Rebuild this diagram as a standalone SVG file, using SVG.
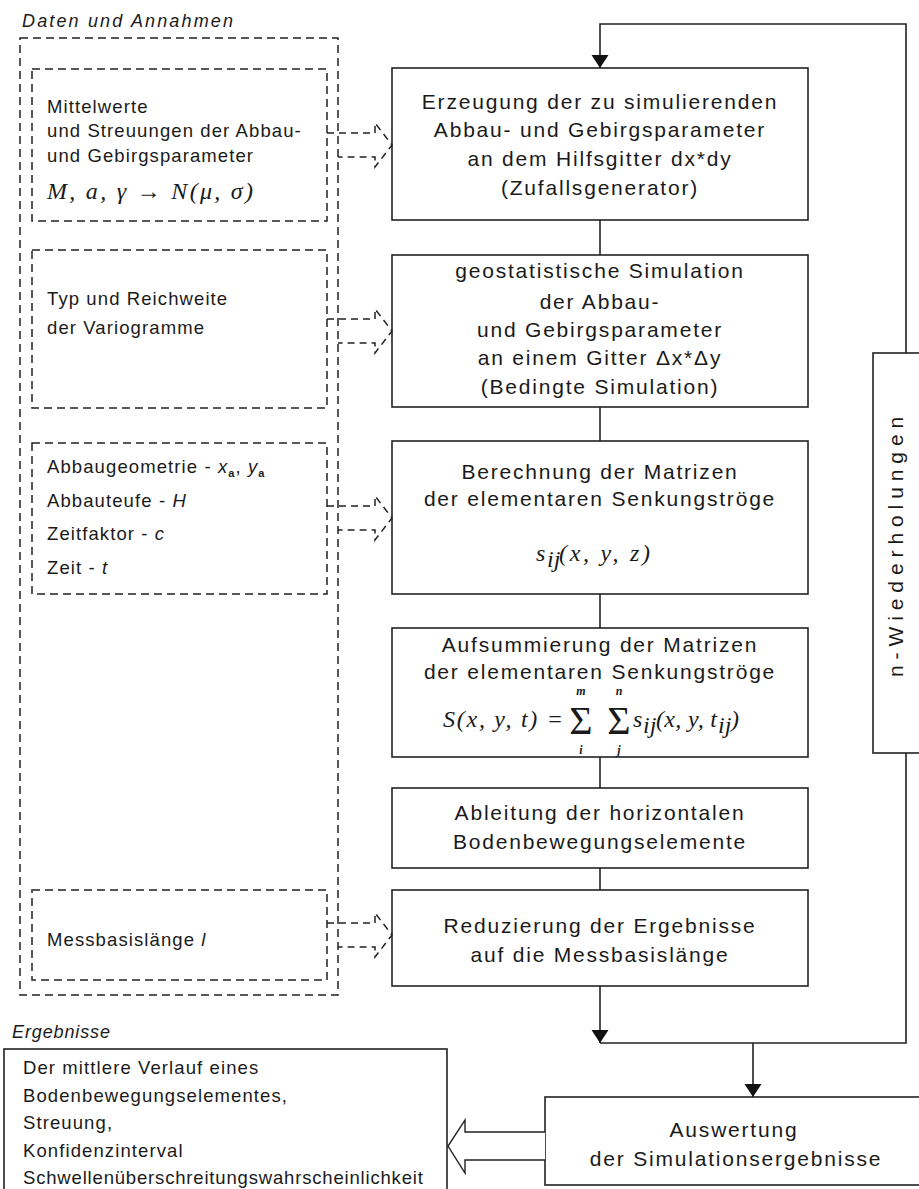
<svg xmlns="http://www.w3.org/2000/svg" width="919" height="1189" viewBox="0 0 919 1189">
  <defs>
    <style>
      .box{fill:#fff;stroke:#222;stroke-width:1.6}
      .dbox{fill:none;stroke:#222;stroke-width:1.5;stroke-dasharray:8 5}
      .t{font-family:"Liberation Sans",Arial,sans-serif;font-size:21px;letter-spacing:1.8px;fill:#1a1a1a;text-anchor:middle}
      .l{font-family:"Liberation Sans",Arial,sans-serif;font-size:18.5px;letter-spacing:1.1px;fill:#1a1a1a}
      .cap{font-family:"Liberation Sans",Arial,sans-serif;font-size:18px;font-style:italic;fill:#1a1a1a}
      .m{font-family:"Liberation Serif","Times New Roman",serif;font-style:italic;font-size:24px;fill:#1a1a1a}
      .sg{font-family:"Liberation Serif","Times New Roman",serif;font-size:40px;fill:#1a1a1a;text-anchor:middle}
      .lim{font-family:"Liberation Serif","Times New Roman",serif;font-style:italic;font-weight:bold;font-size:12px;fill:#1a1a1a;text-anchor:middle}
      .line{fill:none;stroke:#222;stroke-width:1.6}
      .darr{fill:none;stroke:#222;stroke-width:1.5;stroke-dasharray:7 5}
      .hollow{fill:#fff;stroke:#222;stroke-width:1.4}
    </style>
    <marker id="head" markerUnits="userSpaceOnUse" markerWidth="16" markerHeight="18" refX="13" refY="8.5" orient="auto">
      <path d="M0,0 L13,8.5 L0,17 z" fill="#111"/>
    </marker>
  </defs>
  <rect width="919" height="1189" fill="#fff"/>

  <!-- section captions -->
  <text class="cap" x="22" y="27" textLength="211" lengthAdjust="spacing">Daten und Annahmen</text>
  <text class="cap" x="12" y="1038" textLength="98" lengthAdjust="spacing">Ergebnisse</text>

  <!-- input data frame -->
  <g id="daten">
    <rect class="dbox" x="20" y="38" width="318" height="957"/>
  </g>

  <g id="in-mittelwerte">
    <rect class="dbox" x="32" y="69" width="295" height="152"/>
    <text class="l" x="47" y="113">Mittelwerte</text>
    <text class="l" x="47" y="137">und Streuungen der Abbau-</text>
    <text class="l" x="47" y="162">und Gebirgsparameter</text>
    <text class="m" x="47" y="199" textLength="206" lengthAdjust="spacing">M, a, γ <tspan font-style="normal">→</tspan> N(μ, σ)</text>
  </g>

  <g id="in-variogramme">
    <rect class="dbox" x="32" y="250" width="295" height="158"/>
    <text class="l" x="47" y="305">Typ und Reichweite</text>
    <text class="l" x="47" y="334">der Variogramme</text>
  </g>

  <g id="in-geometrie">
    <rect class="dbox" x="32" y="443" width="295" height="151"/>
    <text class="l" x="47" y="473">Abbaugeometrie - <tspan font-style="italic">x</tspan><tspan font-size="11" font-weight="bold" dy="4">a</tspan><tspan dy="-4">, </tspan><tspan font-style="italic">y</tspan><tspan font-size="11" font-weight="bold" dy="4">a</tspan></text>
    <text class="l" x="47" y="507">Abbauteufe - <tspan font-style="italic">H</tspan></text>
    <text class="l" x="47" y="540">Zeitfaktor - <tspan font-style="italic">c</tspan></text>
    <text class="l" x="47" y="574">Zeit - <tspan font-style="italic">t</tspan></text>
  </g>

  <g id="in-messbasis">
    <rect class="dbox" x="32" y="890" width="295" height="90"/>
    <text class="l" x="47" y="946">Messbasislänge <tspan font-style="italic">l</tspan></text>
  </g>

  <!-- simulation chain -->
  <g id="erzeugung">
    <rect class="box" x="392" y="68" width="416" height="152"/>
    <text class="t" x="600" y="109">Erzeugung der zu simulierenden</text>
    <text class="t" x="600" y="137">Abbau- und Gebirgsparameter</text>
    <text class="t" x="600" y="166">an dem Hilfsgitter dx*dy</text>
    <text class="t" x="600" y="195">(Zufallsgenerator)</text>
  </g>

  <g id="simulation">
    <rect class="box" x="392" y="255" width="416" height="152"/>
    <text class="t" x="600" y="278">geostatistische Simulation</text>
    <text class="t" x="600" y="309">der Abbau-</text>
    <text class="t" x="600" y="337">und Gebirgsparameter</text>
    <text class="t" x="600" y="365">an einem Gitter Δx*Δy</text>
    <text class="t" x="600" y="394">(Bedingte Simulation)</text>
  </g>

  <g id="berechnung">
    <rect class="box" x="392" y="441" width="416" height="153"/>
    <text class="t" x="600" y="479">Berechnung der Matrizen</text>
    <text class="t" x="600" y="506">der elementaren Senkungströge</text>
    <text class="m" x="536" y="561">s</text>
    <text class="m" x="547" y="567" font-size="13">ij</text>
    <text class="m" x="559" y="561" textLength="91" lengthAdjust="spacing">(x, y, z)</text>
  </g>

  <g id="aufsummierung">
    <rect class="box" x="392" y="628" width="416" height="129"/>
    <text class="t" x="600" y="652">Aufsummierung der Matrizen</text>
    <text class="t" x="600" y="679">der elementaren Senkungströge</text>
    <text class="m" x="443" y="727" textLength="120" lengthAdjust="spacing">S(x, y, t) =</text>
    <text class="sg" x="581" y="734">Σ</text>
    <text class="sg" x="619" y="734">Σ</text>
    <text class="lim" x="581" y="695">m</text>
    <text class="lim" x="581" y="754">i</text>
    <text class="lim" x="619" y="695">n</text>
    <text class="lim" x="619" y="754">j</text>
    <text class="m" x="633" y="727">s</text>
    <text class="m" x="643" y="733" font-size="13">ij</text>
    <text class="m" x="656" y="727" textLength="61" lengthAdjust="spacing">(x, y, t</text>
    <text class="m" x="718" y="733" font-size="13">ij</text>
    <text class="m" x="731" y="727">)</text>
  </g>

  <g id="ableitung">
    <rect class="box" x="392" y="788" width="416" height="80"/>
    <text class="t" x="600" y="820">Ableitung der horizontalen</text>
    <text class="t" x="600" y="849">Bodenbewegungselemente</text>
  </g>

  <g id="reduzierung">
    <rect class="box" x="392" y="890" width="416" height="96"/>
    <text class="t" x="600" y="933">Reduzierung der Ergebnisse</text>
    <text class="t" x="600" y="962">auf die Messbasislänge</text>
  </g>

  <g id="wiederholungen">
    <rect class="box" x="873" y="353" width="64" height="400"/>
    <text class="t" transform="translate(903,546) rotate(-90)" textLength="262" lengthAdjust="spacing">n-Wiederholungen</text>
  </g>

  <g id="auswertung">
    <rect class="box" x="545" y="1097" width="380" height="88"/>
    <text class="t" x="734" y="1137">Auswertung</text>
    <text class="t" x="736" y="1166">der Simulationsergebnisse</text>
  </g>

  <g id="ergebnisse">
    <rect class="box" x="4" y="1049" width="443" height="150"/>
    <text class="l" x="23" y="1074">Der mittlere Verlauf eines</text>
    <text class="l" x="23" y="1102">Bodenbewegungselementes,</text>
    <text class="l" x="23" y="1129">Streuung,</text>
    <text class="l" x="23" y="1157">Konfidenzinterval</text>
    <text class="l" x="23" y="1184" textLength="401" lengthAdjust="spacing">Schwellenüberschreitungswahrscheinlichkeit</text>
  </g>

  <!-- connectors -->
  <g id="connectors">
    <path class="line" d="M600,220 V255"/>
    <path class="line" d="M600,407 V441"/>
    <path class="line" d="M600,594 V628"/>
    <path class="line" d="M600,757 V788"/>
    <path class="line" d="M600,868 V890"/>
    <path class="line" d="M906,353 V24 H600 V68" marker-end="url(#head)"/>
    <path class="line" d="M600,986 V1043" marker-end="url(#head)"/>
    <path class="line" d="M600,1043 H906 V753"/>
    <path class="line" d="M753,1043 V1097" marker-end="url(#head)"/>
    <!-- dashed input arrows -->
    <path class="darr" d="M327,133 H375 V123 L392,145 L375,167 V157 H338"/>
    <path class="darr" d="M327,319 H375 V309 L392,331 L375,353 V343 H338"/>
    <path class="darr" d="M327,506 H375 V496 L392,518 L375,540 V530 H338"/>
    <path class="darr" d="M327,923 H375 V913 L392,935 L375,957 V947 H338"/>
    <!-- hollow result arrow -->
    <path class="hollow" d="M545,1132 H465 V1120 L448,1146 L465,1173 V1160 H545"/>
  </g>
</svg>
